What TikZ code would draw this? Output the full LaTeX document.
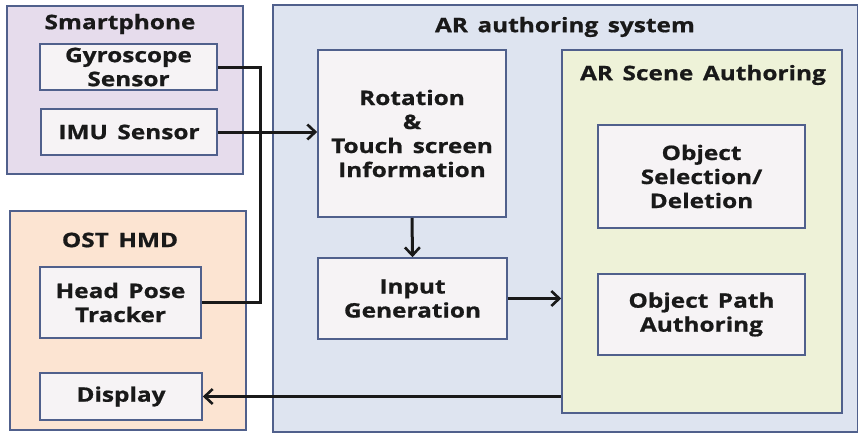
\documentclass[tikz,border=0pt]{standalone}
\usepackage{fontspec}
\setmainfont{Open Sans}[FakeStretch=1.22, WordSpace=1.5, BoldFeatures={FakeBold=0.8}]
\usepackage{tikz}
\usetikzlibrary{arrows.meta}

\definecolor{edgeblue}{RGB}{80,96,140}
\definecolor{phonefill}{RGB}{230,220,236}
\definecolor{hmdfill}{RGB}{252,228,210}
\definecolor{sysfill}{RGB}{222,228,240}
\definecolor{scenefill}{RGB}{238,242,216}
\definecolor{boxfill}{RGB}{246,243,245}

\begin{document}
\begin{tikzpicture}[x=1pt, y=-1pt,
    every node/.style={font=\fontsize{20}{24}\selectfont\bfseries, text=black!90},
    group/.style={draw=edgeblue, line width=1.6pt, rectangle, inner sep=0pt},
    inbox/.style={draw=edgeblue, line width=1.6pt, fill=boxfill, rectangle, inner sep=0pt, align=center},
    title/.style={inner sep=0pt},
    link/.style={line width=3pt, black!90},
    arr/.style={link, -{Straight Barb[length=8pt, width=15pt, line width=2.6pt]}}]
\useasboundingbox (0,0) rectangle (858,434);

% outer groups
\node[group, fill=phonefill, minimum width=236pt, minimum height=168pt] (phone) at (125,90) {};
\node[group, fill=hmdfill, minimum width=236pt, minimum height=219pt] (hmd) at (128,320.5) {};
\node[group, fill=sysfill, minimum width=585pt, minimum height=427pt] (sys) at (565.5,218.5) {};
\node[group, fill=scenefill, minimum width=280pt, minimum height=363pt] (scene) at (702,231.5) {};

\node[title] (phonet) at (120,24) {Smartphone};
\node[title] (hmdt) at (120,240) {OST HMD};
\node[title] (syst) at (565,27) {AR authoring system};
\node[title] (scenet) at (703,75) {AR Scene Authoring};

% inner boxes
\node[inbox, minimum width=177pt, minimum height=46pt] (gyro) at (128.5,67) {Gyroscope\\Sensor};
\node[inbox, minimum width=176pt, minimum height=46pt] (imu) at (129,132) {IMU Sensor};
\node[inbox, minimum width=161pt, minimum height=71pt] (head) at (120.5,302.5) {Head Pose\\Tracker};
\node[inbox, minimum width=162pt, minimum height=47pt] (disp) at (121,396.5) {Display};
\node[inbox, minimum width=188pt, minimum height=167pt] (rot) at (412,133.5) {Rotation\\\&\\Touch screen\\Information};
\node[inbox, minimum width=189pt, minimum height=81pt] (input) at (412.5,298.5) {Input\\Generation};
\node[inbox, minimum width=207pt, minimum height=103pt] (sel) at (701.5,176.5) {Object\\Selection/\\Deletion};
\node[inbox, minimum width=207pt, minimum height=81pt] (path) at (701.5,314.5) {Object Path\\Authoring};

% connectors
\coordinate (bend) at (260,0);
\draw[link] (gyro.east) -| (bend |- head.east) -- (head.east);
\draw[arr] (imu.east) -- (imu.east -| rot.west);
\draw[arr] (rot.south) -- (input.north);
\draw[arr] (input.east) -- (input.east -| scene.west);
\draw[arr] (scene.west |- disp.east) -- (disp.east);
\end{tikzpicture}
\end{document}
